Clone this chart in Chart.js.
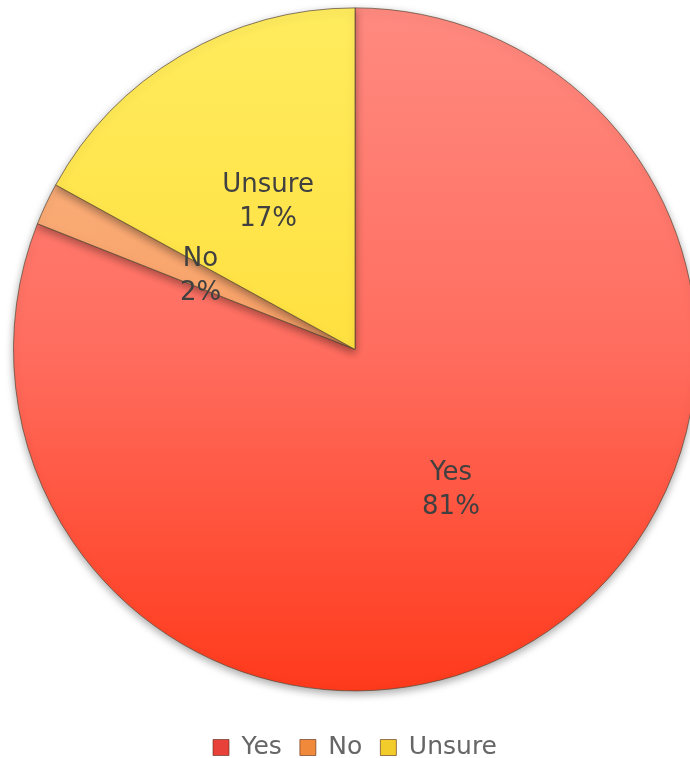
<!DOCTYPE html>
<html>
<head>
<meta charset="utf-8">
<script src="https://cdn.jsdelivr.net/npm/chart.js@4.4.1/dist/chart.umd.min.js"></script>
<style>
  html, body { margin: 0; padding: 0; background: #fff; overflow: hidden; }
  #wrap { width: 710px; height: 770px; position: relative; }
</style>
</head>
<body>
<div id="wrap"><canvas id="pie"></canvas></div>
<script>
const labels = ["Yes", "No", "Unsure"];
const values = [81, 2, 17];
const pctText = ["81%", "2%", "17%"];

// gradient stops per slice (top, middle, bottom)
const topColors = ["#ff8a80", "#fbb888", "#ffec5e"];
const midColors = ["#ff6d5f", "#f8a066", "#ffe040"];
const botColors = ["#ff3a1c", "#f08a3a", "#ffd014"];
const legendColors = ["#e8413a", "#f08a3a", "#f2cc2a"];

const fontFam = "'DejaVu Sans', sans-serif";

const sliceFill = (c) => {
  const area = c.chart.chartArea;
  if (!area) return topColors[c.dataIndex];
  const g = c.chart.ctx.createLinearGradient(0, area.top, 0, area.bottom);
  g.addColorStop(0, topColors[c.dataIndex]);
  g.addColorStop(0.5, midColors[c.dataIndex]);
  g.addColorStop(1, botColors[c.dataIndex]);
  return g;
};

const shadowPlugin = {
  id: "shadow",
  beforeDatasetDraw(chart) {
    const ctx = chart.ctx;
    ctx.save();
    ctx.shadowColor = "rgba(0,0,0,0.35)";
    ctx.shadowBlur = 8;
    ctx.shadowOffsetY = 3;
  },
  afterDatasetDraw(chart) {
    chart.ctx.restore();
  }
};

const labelPlugin = {
  id: "sliceLabels",
  afterDatasetsDraw(chart) {
    const ctx = chart.ctx;
    const meta = chart.getDatasetMeta(0);
    ctx.save();
    ctx.fillStyle = "#404040";
    ctx.font = "26px " + fontFam;
    ctx.textAlign = "center";
    ctx.textBaseline = "middle";
    meta.data.forEach((arc, i) => {
      const mid = (arc.startAngle + arc.endAngle) / 2;
      const r = arc.outerRadius * 0.5;
      const x = arc.x + Math.cos(mid) * r;
      const y = arc.y + Math.sin(mid) * r;
      ctx.fillText(labels[i], x, y - 17);
      ctx.fillText(pctText[i], x, y + 17);
    });
    ctx.restore();
  }
};

new Chart(document.getElementById("pie"), {
  type: "pie",
  data: {
    labels: labels,
    datasets: [{
      data: values,
      backgroundColor: sliceFill,
      borderColor: "rgba(90,70,50,0.7)",
      borderWidth: 1
    }]
  },
  options: {
    responsive: true,
    maintainAspectRatio: false,
    animation: false,
    layout: { padding: { top: 7, left: 13, right: 13, bottom: 0 } },
    plugins: {
      tooltip: { enabled: false },
      legend: {
        position: "bottom",
        title: { display: true, text: "", font: { size: 1 }, padding: { top: 24, bottom: 0 } },
        labels: {
          color: "#595959",
          font: { size: 25, family: fontFam },
          boxWidth: 16,
          boxHeight: 16,
          padding: 18,
          generateLabels: (chart) => labels.map((l, i) => ({
            text: l,
            fillStyle: legendColors[i],
            strokeStyle: "rgba(90,40,20,0.6)",
            lineWidth: 1,
            index: i
          }))
        }
      }
    }
  },
  plugins: [shadowPlugin, labelPlugin]
});
</script>
</body>
</html>
